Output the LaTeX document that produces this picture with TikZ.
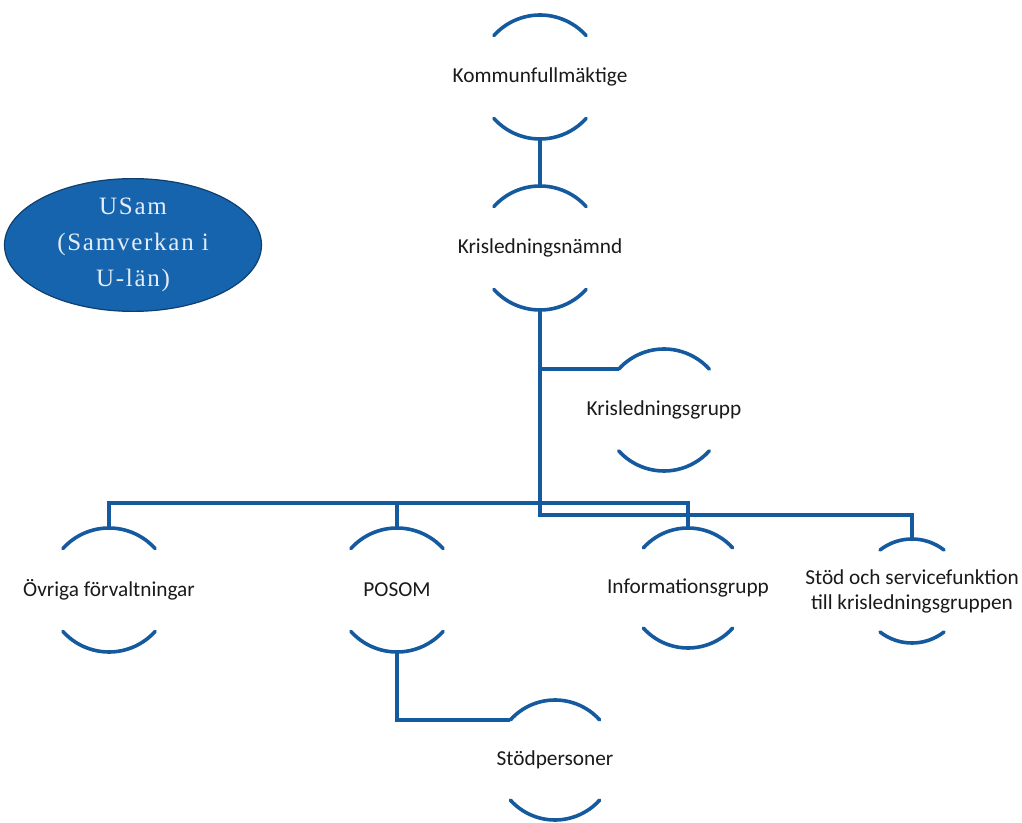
\documentclass[tikz,border=0pt]{standalone}
\usepackage{fontspec}
\setmainfont{Carlito}
\newfontfamily\usamfont[LetterSpace=7]{Liberation Serif}
\usetikzlibrary{shapes.geometric}
\definecolor{lineblue}{HTML}{155A9E}
\definecolor{ellfill}{HTML}{1764AE}
\definecolor{elldraw}{HTML}{0E3F6E}
\definecolor{ellText}{HTML}{E4EDF7}
\definecolor{labelText}{HTML}{1A1A1A}
\tikzset{
  conn/.style={draw=lineblue, line width=3.6pt},
  arcline/.style={draw=lineblue, line width=3.6pt, line cap=round},
  orgnode/.style={draw=none, inner sep=0pt, align=center, text=labelText,
    font=\fontsize{21.3}{25}\selectfont},
}
% arcs of a node: name, radius, half-angle from vertical; also defines name-top, name-bot, name-tl
\newcommand{\nodearcs}[3]{%
  \coordinate (#1-top) at ([yshift=#2]#1.center);
  \coordinate (#1-bot) at ([yshift=-#2]#1.center);
  \coordinate (#1-tl) at ([shift={({90+#3}:#2)}]#1.center);
  \draw[arcline] (#1-tl) arc[start angle={90+#3}, end angle={90-#3}, radius=#2];
  \draw[arcline] ([shift={({270-#3}:#2)}]#1.center) arc[start angle={270-#3}, end angle={270+#3}, radius=#2];
}
\begin{document}
\begin{tikzpicture}[x=1pt,y=1pt]
\useasboundingbox (0,0) rectangle (1022,822);
% nodes (image y converted: 822 - y)
\node[orgnode] (k)  at (540,745) {Kommunfullmäktige};
\node[orgnode] (kn) at (540,574) {Krisledningsnämnd};
\node[orgnode] (kg) at (664,412) {Krisledningsgrupp};
\node[orgnode] (o)  at (109,232) {Övriga förvaltningar};
\node[orgnode] (p)  at (397,232) {POSOM};
\node[orgnode] (i)  at (688,234) {Informationsgrupp};
\node[orgnode] (s)  at (912,231) {Stöd och servicefunktion\\till krisledningsgruppen};
\node[orgnode] (sp) at (555,62)  {Stödpersoner};
\node[ellipse, fill=ellfill, draw=elldraw, line width=1.2pt,
      minimum width=257pt, minimum height=125pt, inner sep=0pt,
      text=ellText, align=center,
      font=\usamfont\fontsize{25}{36}\selectfont] (usam) at (133,577)
      {USam\\(Samverkan i\\U-län)};
% arcs
\nodearcs{k}{62}{48}
\nodearcs{kn}{62}{48}
\nodearcs{kg}{61}{48}
\nodearcs{o}{62}{48}
\nodearcs{p}{62}{48}
\nodearcs{i}{60}{48}
\nodearcs{s}{52}{38}
\nodearcs{sp}{60}{48}
% bus coordinates
\coordinate (busA) at (540,319);
\coordinate (busB) at (540,307);
% connectors
\draw[conn] (k-bot) -- (kn-top);
\draw[conn] (kn-bot) -- (busB) -| (s-top);
\draw[conn] (kn-bot |- kg-tl) -- (kg-tl);
\draw[conn] (o-top) |- (busA) -| (i-top);
\draw[conn] (p-top) -- (p-top |- busA);
\draw[conn] (p-bot) |- (sp-tl);
\end{tikzpicture}
\end{document}
